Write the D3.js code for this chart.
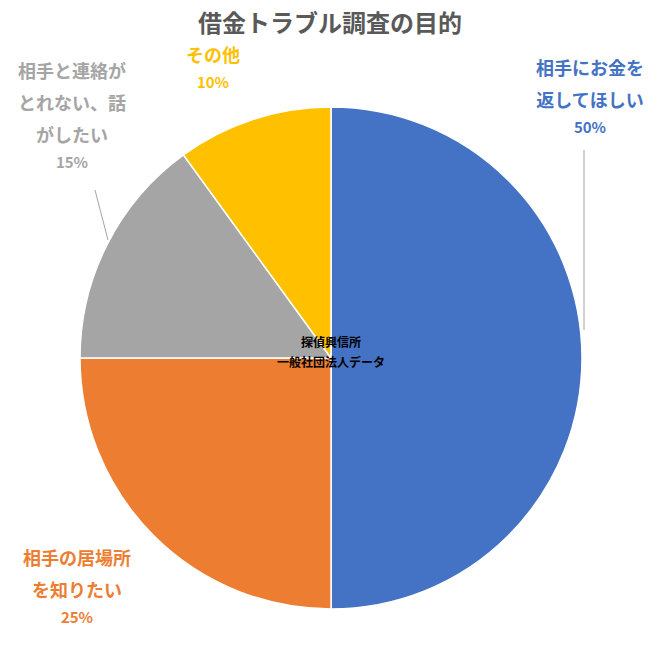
<!DOCTYPE html>
<html><head><meta charset="utf-8">
<script src="https://cdn.jsdelivr.net/npm/d3@7"></script>
<style>body{margin:0;background:#fff}text{font-family:"Noto Sans CJK JP",sans-serif}</style>
</head><body><svg id="c" width="660" height="660"></svg>
<script>
const categories=["相手にお金を返してほしい","相手の居場所を知りたい","相手と連絡がとれない、話がしたい","その他"];
const values=[50,25,15,10];
const colors=["#4472C4","#ED7D31","#A5A5A5","#FFC000"];
const labelLines=[["相手にお金を","返してほしい","50%"],["相手の居場所","を知りたい","25%"],["相手と連絡が","とれない、話","がしたい","15%"],["その他","10%"]];
const labelPos=[[590,75],[77,565],[72,78],[213,62]];
const labelColors=["#4472C4","#ED7D31","#A5A5A5","#FFC000"];
const svg=d3.select("#c");
const cx=331,cy=358,r=251;
const pie=d3.pie().sort(null).value(d=>d)(values);
const arc=d3.arc().innerRadius(0).outerRadius(r);
const g=svg.append("g").attr("transform",`translate(${cx},${cy})`);
g.selectAll("path").data(pie).join("path").attr("d",arc).attr("fill",(d,i)=>colors[i]).attr("stroke","#fff").attr("stroke-width",1.5);
svg.append("text").attr("x",330).attr("y",32).attr("text-anchor","middle").attr("font-size",24).attr("font-weight","bold").attr("fill","#595959").text("借金トラブル調査の目的");
// leader lines
svg.append("polyline").attr("points","584,150 584,330").attr("fill","none").attr("stroke","#A5A5A5").attr("stroke-width",1);
svg.append("polyline").attr("points","95,190 108,240").attr("fill","none").attr("stroke","#A5A5A5").attr("stroke-width",1);
labelLines.forEach((ls,i)=>{
  const t=svg.append("text").attr("text-anchor","middle").attr("font-weight","bold").attr("fill",labelColors[i]);
  ls.forEach((s,j)=>{
    const pct=j===ls.length-1;
    t.append("tspan").attr("x",labelPos[i][0]).attr("y",labelPos[i][1]+j*32-(pct?6:0)).attr("font-size",pct?15:18).text(s);
  });
});
svg.append("text").attr("x",331).attr("y",347).attr("text-anchor","middle").attr("font-size",12).attr("font-weight","bold").text("探偵興信所");
svg.append("text").attr("x",331).attr("y",367).attr("text-anchor","middle").attr("font-size",12).attr("font-weight","bold").text("一般社団法人データ");
</script></body></html>
